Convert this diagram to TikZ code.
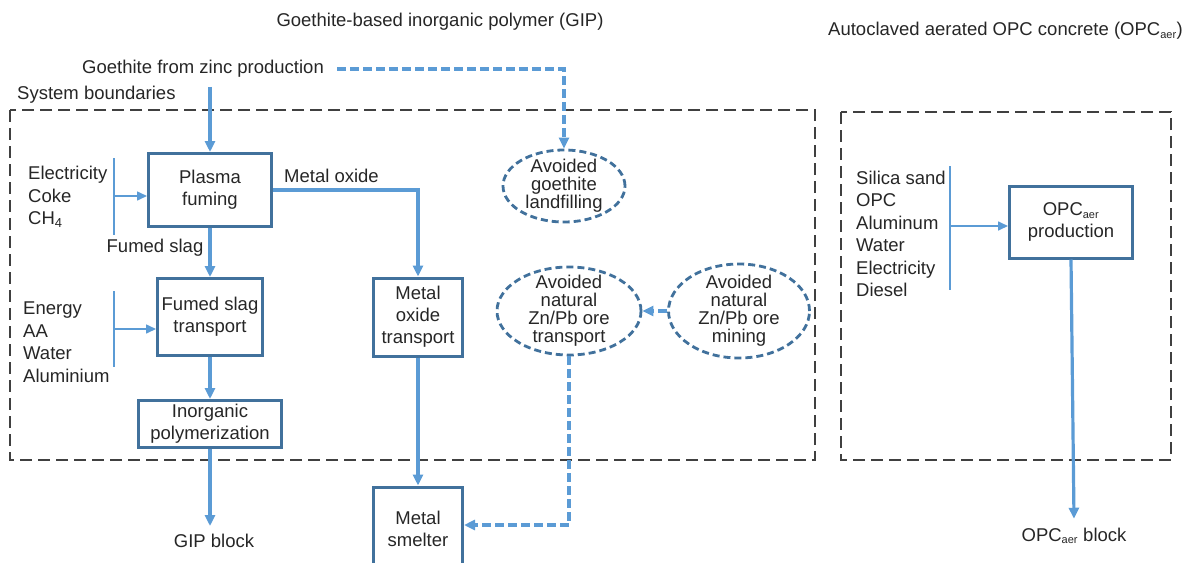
\documentclass[tikz,border=0pt]{standalone}
\usepackage{fontspec}
\setmainfont{Liberation Sans}
\usetikzlibrary{arrows.meta,calc,shapes.geometric}
\definecolor{boxblue}{HTML}{41719C}
\definecolor{arrblue}{HTML}{5B9BD5}
\definecolor{txt}{HTML}{262626}
\definecolor{bound}{HTML}{404040}
\newcommand{\aersub}{\textsubscript{\fontsize{11}{11}\selectfont aer}}
\begin{document}
\begin{tikzpicture}[x=1pt,y=-1pt,
  font=\fontsize{18.5}{22}\selectfont, text=txt,
  proc/.style={draw=boxblue, line width=3pt, inner sep=0pt, align=center, text=txt},
  avoid/.style={ellipse, draw=boxblue, line width=2.8pt, dash pattern=on 7pt off 4pt,
     inner xsep=0pt, inner ysep=-6pt, align=center, font=\fontsize{18.5}{18}\selectfont},
  flow/.style={draw=arrblue, line width=3.2pt, -{Triangle[length=11pt,width=10pt]}},
  dflow/.style={flow, dash pattern=on 9pt off 4pt},
  feed/.style={draw=arrblue, line width=1.6pt},
  feedarr/.style={feed, -{Triangle[length=10pt,width=9pt]}},
  boundary/.style={draw=bound, line width=1.7pt, dash pattern=on 12pt off 6pt},
  lbl/.style={inner sep=0pt, align=left, font=\fontsize{18.5}{22.5}\selectfont},
  txtnode/.style={inner sep=0pt}
]
\useasboundingbox (0,0) rectangle (1185,562);

% system boundaries
\draw[boundary] (10,110) rectangle (815,460);
\draw[boundary] (841,112) rectangle (1171,460);

% titles
\node[txtnode] (title1) at (440,22) {Goethite-based inorganic polymer (GIP)};
\node[txtnode, anchor=west] (title2) at (828,31) {Autoclaved aerated OPC concrete (OPC\aersub)};
\node[txtnode, anchor=west] (goe) at (82,69) {Goethite from zinc production};
\node[txtnode, anchor=west] (sysb) at (17,95) {System boundaries};

% process boxes
\node[proc, minimum width=123, minimum height=73] (plasma) at (210,190) {Plasma\\fuming};
\node[proc, minimum width=105, minimum height=77] (fst) at (210,317) {Fumed slag\\transport};
\node[proc, minimum width=143, minimum height=47] (poly) at (210,424) {Inorganic\\polymerization};
\node[proc, minimum width=89, minimum height=78] (mot) at (418,317) {Metal\\oxide\\transport};
\node[proc, minimum width=89, minimum height=84] (smelt) at (418,529) {Metal\\smelter};
\node[proc, minimum width=123, minimum height=72] (opc) at (1071,222) {OPC\aersub\\production};

% avoided processes
\node[avoid, minimum width=122, minimum height=72] (landf) at (564,186) {Avoided\\goethite\\landfilling};
\node[avoid, minimum width=144, minimum height=88] (natt) at (569,311) {Avoided\\natural\\Zn/Pb ore\\transport};
\node[avoid, minimum width=141, minimum height=94] (natm) at (739,311) {Avoided\\natural\\Zn/Pb ore\\mining};

% labels
\node[txtnode, anchor=west] (molbl) at (284,176) {Metal oxide};
\node[txtnode] (fslbl) at (155,248) {Fumed slag};
\node[txtnode] (gip) at (214,541) {GIP block};
\node[txtnode] (opcblk) at (1074,536) {OPC\aersub{} block};

% input lists
\node[lbl, anchor=west] (in1) at (28,197) {Electricity\\Coke\\CH\textsubscript{4}};
\node[lbl, anchor=west] (in2) at (23,342) {Energy\\AA\\Water\\Aluminium};
\node[lbl, anchor=west] (in3) at (856,234) {Silica sand\\OPC\\Aluminum\\Water\\Electricity\\Diesel};

\coordinate (b1top) at (114,158);
\coordinate (b1bot) at (114,235);
\coordinate (b1mid) at (114,196);
\coordinate (b2top) at (114,291);
\coordinate (b2bot) at (114,367);
\coordinate (b2mid) at (114,329);
\coordinate (b3top) at (950,166);
\coordinate (b3bot) at (950,290);
\coordinate (b3mid) at (950,226);

\draw[feed] (b1top) -- (b1bot);
\draw[feedarr] (b1mid) -- (b1mid -| plasma.west);
\draw[feed] (b2top) -- (b2bot);
\draw[feedarr] (b2mid) -- (b2mid -| fst.west);
\draw[feed] (b3top) -- (b3bot);
\draw[feedarr] (b3mid) -- (b3mid -| opc.west);

% flows
\draw[flow] ($(goe.south -| plasma.north)+(0,9)$) -- (plasma.north);
\draw[dflow] ([xshift=13pt]goe.east) -| (landf.north);
\draw[flow] (plasma.east) -| (mot.north);
\draw[flow] (plasma.south) -- (fst.north);
\draw[flow] (fst.south) -- (poly.north);
\draw[flow] (poly.south) -- ([yshift=8pt]gip.north -| poly.south);
\draw[flow] (mot.south) -- (smelt.north);
\draw[dflow] (natm.west) -- (natt.east);
\draw[dflow] (natt.south) |- ([yshift=4pt]smelt.east);
\draw[flow] (opc.south) -- ([yshift=9pt]opcblk.north);
\end{tikzpicture}
\end{document}
